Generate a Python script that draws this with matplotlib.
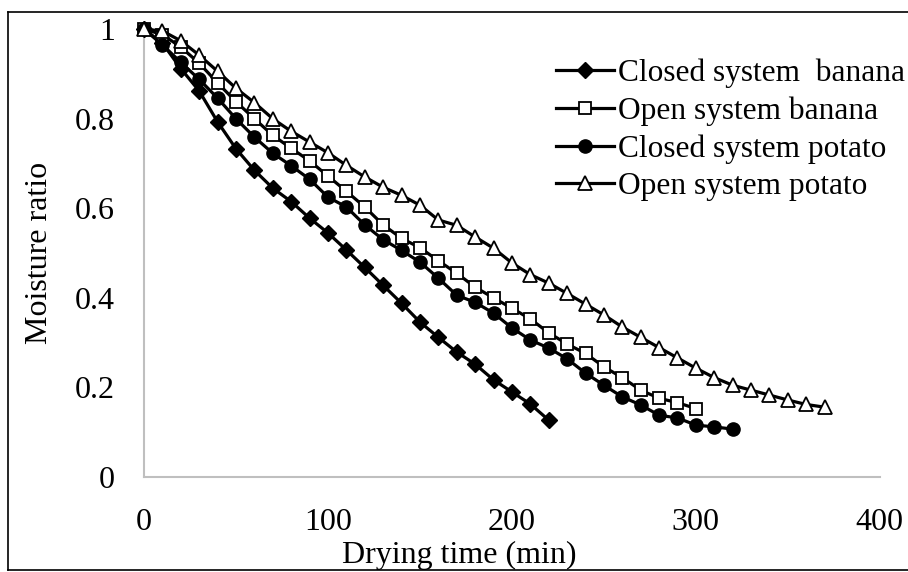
import matplotlib
matplotlib.use("Agg")
import matplotlib.pyplot as plt
from matplotlib.lines import Line2D

plt.rcParams['font.family'] = ['Liberation Serif', 'DejaVu Serif']

# Drying time (min)
t_closed_banana = list(range(0, 230, 10))
t_open_banana = list(range(0, 310, 10))
t_closed_potato = list(range(0, 330, 10))
t_open_potato = list(range(0, 380, 10))

closed_banana = [1.0, 0.969, 0.912, 0.862, 0.793, 0.733, 0.685, 0.645, 0.615, 0.578,
                 0.545, 0.507, 0.468, 0.428, 0.388, 0.346, 0.312, 0.279, 0.252, 0.217,
                 0.190, 0.163, 0.127]
open_banana = [1.0, 0.988, 0.960, 0.924, 0.880, 0.838, 0.800, 0.763, 0.734, 0.706,
               0.672, 0.638, 0.603, 0.563, 0.533, 0.512, 0.483, 0.455, 0.424, 0.400,
               0.377, 0.353, 0.322, 0.297, 0.276, 0.246, 0.222, 0.194, 0.176, 0.166,
               0.153]
closed_potato = [1.0, 0.965, 0.926, 0.888, 0.846, 0.800, 0.759, 0.723, 0.695, 0.665,
                 0.625, 0.603, 0.563, 0.530, 0.506, 0.480, 0.444, 0.406, 0.390, 0.366,
                 0.333, 0.306, 0.288, 0.264, 0.232, 0.205, 0.179, 0.161, 0.138, 0.132,
                 0.116, 0.112, 0.107]
open_potato = [1.0, 0.996, 0.974, 0.942, 0.906, 0.868, 0.836, 0.800, 0.772, 0.748,
               0.724, 0.696, 0.670, 0.647, 0.629, 0.607, 0.574, 0.562, 0.536, 0.511,
               0.478, 0.452, 0.433, 0.410, 0.386, 0.362, 0.335, 0.312, 0.289, 0.266,
               0.243, 0.222, 0.205, 0.194, 0.183, 0.172, 0.162, 0.156]

labels = ["Closed system  banana", "Open system banana",
          "Closed system potato", "Open system potato"]

FS = 23

fig = plt.figure(figsize=(9.08, 5.72), dpi=100)
ax = fig.add_axes([0.1586, 0.166, 0.8104, 0.783])

lw = 2.3
ax.plot(t_closed_banana, closed_banana, color='black', lw=lw, marker='D', ms=8,
        mfc='black', mec='black', label=labels[0], clip_on=False, zorder=3)
ax.plot(t_open_banana, open_banana, color='black', lw=lw, marker='s', ms=9,
        mfc='white', mec='black', mew=1.3, label=labels[1], clip_on=False, zorder=3)
ax.plot(t_closed_potato, closed_potato, color='black', lw=lw, marker='o', ms=9.5,
        mfc='black', mec='black', label=labels[2], clip_on=False, zorder=3)
ax.plot(t_open_potato, open_potato, color='black', lw=lw, marker='^', ms=10.5,
        mfc='white', mec='black', mew=1.3, label=labels[3], clip_on=False, zorder=3)

ax.set_xlim(0, 400)
ax.set_ylim(0, 1)
ax.set_xticks([0, 100, 200, 300, 400])
ax.set_yticks([0, 0.2, 0.4, 0.6, 0.8, 1.0])
ax.set_yticklabels(['0', '0.2', '0.4', '0.6', '0.8', '1'])
ax.tick_params(axis='both', length=0, labelsize=FS)
ax.tick_params(axis='x', pad=22)
ax.tick_params(axis='y', pad=21)
for s in ['top', 'right']:
    ax.spines[s].set_visible(False)
for s in ['left', 'bottom']:
    ax.spines[s].set_color('#BFBFBF')
    ax.spines[s].set_linewidth(1.5)

ax.set_xlabel('Drying time (min)', fontsize=FS)
ax.xaxis.set_label_coords(0.429, -0.142)
ax.set_ylabel('Moisture ratio', fontsize=FS, labelpad=15)

leg = ax.legend(loc='upper left', bbox_to_anchor=(0.56, 0.935), frameon=False,
                fontsize=22.6, handlelength=1.85, handletextpad=0.13,
                labelspacing=0.27, borderaxespad=0, borderpad=0)

# figure border
fig.add_artist(Line2D([8/908, 8/908], [1-12/572, 1-570/572], transform=fig.transFigure,
                      color='black', lw=1.2))
fig.add_artist(Line2D([8/908, 1.0], [1-12/572, 1-12/572], transform=fig.transFigure,
                      color='black', lw=1.2))
fig.add_artist(Line2D([8/908, 1.0], [1-570/572, 1-570/572], transform=fig.transFigure,
                      color='black', lw=1.2))

fig.savefig('out.png', dpi=100)
